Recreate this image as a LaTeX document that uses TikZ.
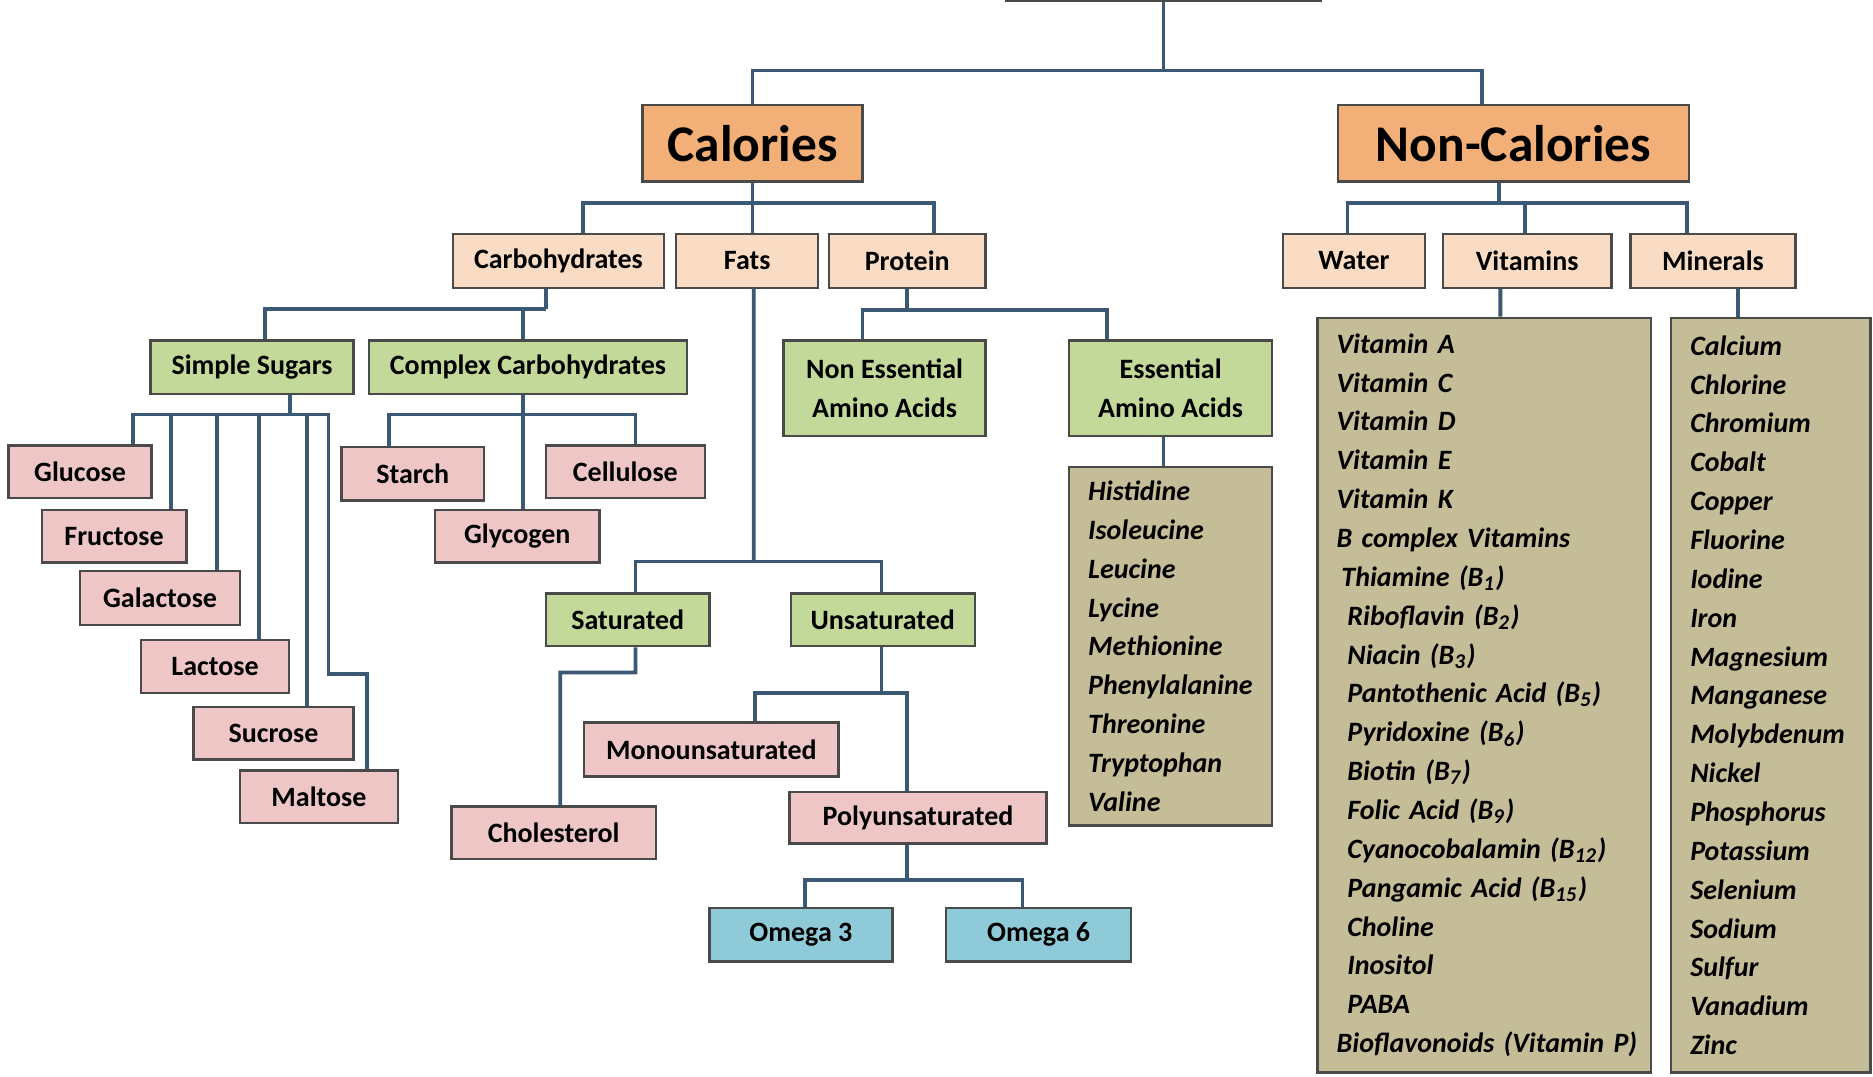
\documentclass[tikz,border=0pt]{standalone}
\usepackage{fontspec}
\setmainfont{Carlito}
\usepackage{tikz}
\usetikzlibrary{calc}
\definecolor{nutorange}{HTML}{F2AF78}
\definecolor{nutpeach}{HTML}{F9DCC3}
\definecolor{nutgreen}{HTML}{C2D99A}
\definecolor{nutpink}{HTML}{EEC6C6}
\definecolor{nutblue}{HTML}{8FCAD9}
\definecolor{nuttan}{HTML}{C4BD97}
\definecolor{nutline}{HTML}{3B5874}
\definecolor{nutedge}{HTML}{4A4A4A}
\newlength{\unitpx}
\setlength{\unitpx}{0.012cm}
\newcommand{\listfont}{\bfseries\itshape\fontsize{8}{11.1}\selectfont}

\begin{document}
\begin{tikzpicture}[
  x=\unitpx, y=-\unitpx,
  font=\bfseries\fontsize{8}{11.1}\selectfont,
  wh/.style 2 args={minimum width=#1\unitpx, minimum height=#2\unitpx},
  box/.style={rectangle, draw=nutedge, line width=0.7pt, inner sep=0pt, align=center},
  topbox/.style={box, fill=nutorange, font=\bfseries\fontsize{14.7}{17}\selectfont},
  catbox/.style={box, fill=nutpeach},
  greenbox/.style={box, fill=nutgreen},
  pinkbox/.style={box, fill=nutpink},
  bluebox/.style={box, fill=nutblue},
  listbox/.style={box, fill=nuttan, inner xsep=16\unitpx, align=left, font=\listfont},
  link/.style={draw=nutline, line width=1.1pt}
]
\useasboundingbox (0,0) rectangle (1568,901);
\clip (0,0) rectangle (1568,901);

% top levels
\node[topbox, wh={264}{44}] (root) at (974,-21) {};
\node[topbox, wh={184}{64}] (calories) at (630,120) {Calories};
\node[topbox, wh={294}{64}] (noncal) at (1267,120) {Non-Calories};

\node[catbox, wh={177}{45}] (carbs) at (467.5,218.5) {Carbohydrates};
\node[catbox, wh={119}{45}] (fats) at (625.5,218.5) {Fats};
\node[catbox, wh={131}{45}] (protein) at (759.5,218.5) {Protein};
\node[catbox, wh={119}{45}] (water) at (1133.5,218.5) {Water};
\node[catbox, wh={141}{45}] (vitamins) at (1278.5,218.5) {Vitamins};
\node[catbox, wh={138}{45}] (minerals) at (1434,218.5) {Minerals};

% carbohydrates
\node[greenbox, wh={170}{45}] (simple) at (211,307.5) {Simple Sugars};
\node[greenbox, wh={266}{45}] (complex) at (442,307.5) {Complex Carbohydrates};
\node[pinkbox, wh={120}{44}] (glucose) at (67,395) {Glucose};
\node[pinkbox, wh={121}{44}] (fructose) at (95.5,449) {Fructose};
\node[pinkbox, wh={134}{45}] (galactose) at (134,500.5) {Galactose};
\node[pinkbox, wh={124}{44}] (lactose) at (180,558) {Lactose};
\node[pinkbox, wh={134}{44}] (sucrose) at (229,614) {Sucrose};
\node[pinkbox, wh={132}{44}] (maltose) at (267,667) {Maltose};
\node[pinkbox, wh={119}{45}] (starch) at (345.5,396.5) {Starch};
\node[pinkbox, wh={133}{44}] (cellulose) at (523.5,395) {Cellulose};
\node[pinkbox, wh={138}{44}] (glycogen) at (433,449) {Glycogen};

% fats
\node[greenbox, wh={137}{44}] (saturated) at (525.5,519) {Saturated};
\node[greenbox, wh={154}{44}] (unsaturated) at (739,519) {Unsaturated};
\node[pinkbox, wh={171}{44}] (cholesterol) at (463.5,697) {Cholesterol};
\node[pinkbox, wh={213}{45}] (mono) at (595.5,627.5) {Monounsaturated};
\node[pinkbox, wh={215}{43}] (poly) at (768.5,684.5) {Polyunsaturated};
\node[bluebox, wh={153}{45}] (omega3) at (670.5,782.5) {Omega 3};
\node[bluebox, wh={155}{45}] (omega6) at (869.5,782.5) {Omega 6};

% protein
\node[greenbox, wh={169}{80}] (noness) at (740.5,325) {Non Essential\\Amino Acids};
\node[greenbox, wh={170}{80}] (essential) at (980,325) {Essential\\Amino Acids};
\node[listbox, wh={170}{300}, text width=138\unitpx] (esslist) at (980,541) {Histidine\\Isoleucine\\Leucine\\Lycine\\Methionine\\Phenylalanine\\Threonine\\Tryptophan\\Valine};

% vitamins and minerals
\node[listbox, wh={279}{632}, text width=247\unitpx] (vitlist) at (1242.5,582) {Vitamin A\\Vitamin C\\Vitamin D\\Vitamin E\\Vitamin K\\B complex Vitamins\\
\hspace*{4\unitpx}Thiamine (B\textsubscript{1})\\
\hspace*{9\unitpx}Riboflavin (B\textsubscript{2})\\
\hspace*{9\unitpx}Niacin (B\textsubscript{3})\\
\hspace*{9\unitpx}Pantothenic Acid (B\textsubscript{5})\\
\hspace*{9\unitpx}Pyridoxine (B\textsubscript{6})\\
\hspace*{9\unitpx}Biotin (B\textsubscript{7})\\
\hspace*{9\unitpx}Folic Acid (B\textsubscript{9})\\
\hspace*{9\unitpx}Cyanocobalamin (B\textsubscript{12})\\
\hspace*{9\unitpx}Pangamic Acid (B\textsubscript{15})\\
\hspace*{9\unitpx}Choline\\
\hspace*{9\unitpx}Inositol\\
\hspace*{9\unitpx}PABA\\
\mbox{Bioflavonoids (Vitamin P)}};
\node[listbox, wh={167}{632}, text width=135\unitpx] (minlist) at (1482.5,582) {Calcium\\Chlorine\\Chromium\\Cobalt\\Copper\\Fluorine\\Iodine\\Iron\\Magnesium\\Manganese\\Molybdenum\\Nickel\\Phosphorus\\Potassium\\Selenium\\Sodium\\Sulfur\\Vanadium\\Zinc};

% bus points
\coordinate (topbus) at (974,59);
\coordinate (calbus) at (630,170);
\coordinate (ncbus) at (1255,170);
\coordinate (carbbus) at (457,259);
\coordinate (protbus) at (759.5,259.5);
\coordinate (sugbus) at (243,347);
\coordinate (maltbend) at (275,564);
\coordinate (cplxbus) at (438,347);
\coordinate (fatbus) at (631,470);
\coordinate (satbend) at (532,563);
\coordinate (unsatbus) at (738,580);
\coordinate (polybus) at (759,737);

% connectors
\draw[link] (root.south) -- (topbus);
\draw[link] (calories.north) |- (topbus) -| ($(noncal.north)+(-26,0)$);
\draw[link] (calories.south) -- (calories.south |- fats.north);
\draw[link] ($(carbs.north)+(20.5,0)$) |- (calbus) -| ($(protein.north)+(22.5,0)$);
\draw[link] ($(noncal.south)+(-12,0)$) -- (ncbus);
\draw[link] ($(water.north)+(-5.5,0)$) |- (ncbus) -| ($(minerals.north)+(-22,0)$);
\draw[link] ($(vitamins.north)+(-1.5,0)$) |- (ncbus);
\draw[link] ($(carbs.south)+(-10.5,0)$) -- (carbbus);
\draw[link] ($(simple.north)+(11,0)$) |- (carbbus);
\draw[link] ($(complex.north)+(-4,0)$) |- (carbbus);
\draw[link] (protein.south) -- (protbus);
\draw[link] ($(noness.north)+(-18.5,0)$) |- (protbus) -| ($(essential.north)+(-53,0)$);
\draw[link] ($(essential.south)+(-6,0)$) -- ($(esslist.north)+(-6,0)$);
\draw[link] ($(vitamins.south)+(-22.5,0)$) -- ($(vitlist.north)+(13.5,0)$);
\draw[link] ($(minerals.south)+(21,0)$) -- ($(minlist.north)+(-27.5,0)$);

\draw[link] ($(simple.south)+(32,0)$) -- (sugbus);
\draw[link] ($(glucose.north)+(44,0)$) |- (sugbus);
\draw[link] ($(fructose.north)+(47.5,0)$) |- (sugbus);
\draw[link] ($(galactose.north)+(48,0)$) |- (sugbus);
\draw[link] ($(lactose.north)+(37,0)$) |- (sugbus);
\draw[link] ($(sucrose.north)+(28,0)$) |- (sugbus);
\draw[link] ($(maltose.north)+(40,0)$) |- (maltbend) |- (sugbus);
\draw[link] ($(complex.south)+(-4,0)$) -- ($(glycogen.north)+(5,0)$);
\draw[link] ($(starch.north)+(-19.5,0)$) |- (cplxbus) -| ($(cellulose.north)+(8.5,0)$);

\draw[link] ($(fats.south)+(5.5,0)$) -- (fatbus);
\draw[link] ($(saturated.north)+(6.5,0)$) |- (fatbus) -| ($(unsaturated.north)+(-1,0)$);
\draw[link] ($(saturated.south)+(6.5,0)$) -- (satbend) -| ($(cholesterol.north)+(5.5,0)$);
\draw[link] ($(unsaturated.south)+(-1,0)$) -- (unsatbus);
\draw[link] ($(mono.north)+(36.5,0)$) |- (unsatbus) -| ($(poly.north)+(-9.5,0)$);
\draw[link] ($(poly.south)+(-9.5,0)$) -- (polybus);
\draw[link] ($(omega3.north)+(3.5,0)$) |- (polybus) -| ($(omega6.north)+(-13.5,0)$);
\end{tikzpicture}
\end{document}
